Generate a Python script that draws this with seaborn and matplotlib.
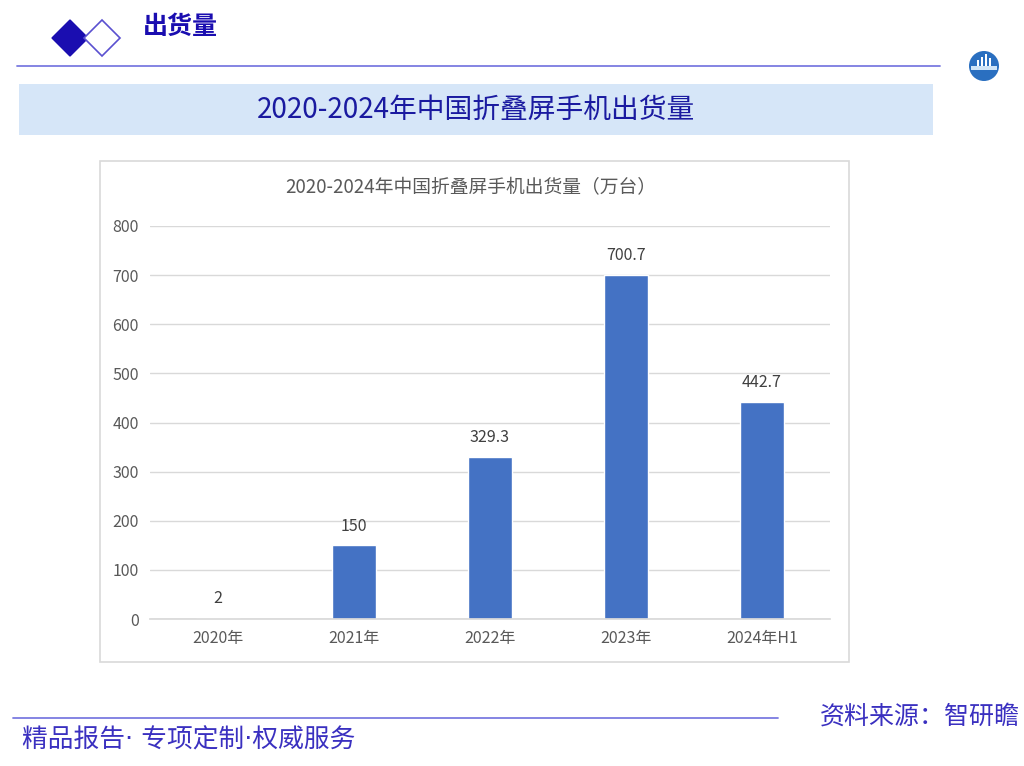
import matplotlib
matplotlib.use("Agg")
import matplotlib.pyplot as plt
import seaborn as sns
import pandas as pd
from matplotlib.patches import Polygon, Rectangle, Circle

sns.set_theme(style="white")
plt.rcParams['font.family'] = ['Noto Sans CJK SC', 'DejaVu Sans']

categories = ["2020年", "2021年", "2022年", "2023年", "2024年H1"]
values = [2, 150, 329.3, 700.7, 442.7]
value_labels = ["2", "150", "329.3", "700.7", "442.7"]
yticks = [0, 100, 200, 300, 400, 500, 600, 700, 800]

W, H = 1024, 766
fig = plt.figure(figsize=(W / 100, H / 100), dpi=100)

bg = fig.add_axes([0, 0, 1, 1])
bg.set_xlim(0, W)
bg.set_ylim(H, 0)
bg.axis("off")

dark = "#1a0db0"
line_c = "#7b7be0"
bg.add_patch(Polygon([(52, 38), (70, 20), (88, 38), (70, 56)], closed=True,
                     facecolor=dark, edgecolor=dark))
bg.add_patch(Polygon([(84, 38), (102, 20), (120, 38), (102, 56)], closed=True,
                     facecolor="white", edgecolor="#5a50d0", lw=1.2))
bg.text(143, 27, "出货量", fontsize=18, color=dark, fontweight="bold", va="center", ha="left")
bg.plot([17, 940], [66, 66], color=line_c, lw=1.3)
# logo
bg.add_patch(Circle((984, 66), 15, facecolor="#2a6fc0", edgecolor="none"))
bg.add_patch(Rectangle((971, 66), 26, 4, facecolor="#cfe4f7", edgecolor="none"))
for bx, bh in [(977, 6), (981, 9), (985, 12), (989, 8)]:
    bg.add_patch(Rectangle((bx, 66 - bh), 2.2, bh, facecolor="white", edgecolor="none"))
# title band
bg.add_patch(Rectangle((19, 84), 914, 51, facecolor="#d6e6f8", edgecolor="none"))
bg.text(476, 110, "2020-2024年中国折叠屏手机出货量", fontsize=20, color="#1a1aa0",
        ha="center", va="center")
# chart box
bg.add_patch(Rectangle((100, 161), 749, 501, facecolor="white", edgecolor="#d9d9d9", lw=1.2))
bg.text(471, 188, "2020-2024年中国折叠屏手机出货量（万台）", fontsize=13.5, color="#595959",
        ha="center", va="center")
# footer
bg.plot([13, 778], [718, 718], color=line_c, lw=1.3)
bg.text(22, 741, "精品报告· 专项定制·权威服务", fontsize=18.5, color="#3a30c0", ha="left", va="center",
        family=["DejaVu Sans", "Noto Sans CJK SC"])
bg.text(1020, 717, "资料来源：智研瞻", fontsize=18, color="#3a30c0", ha="right", va="center")

# chart axes
ax = fig.add_axes([150 / W, 1 - 619 / H, 680 / W, (619 - 226) / H])
df = pd.DataFrame({"cat": categories, "val": values})
sns.barplot(data=df, x="cat", y="val", color="#4472c4", width=0.32, ax=ax,
            saturation=1, zorder=3)
ax.set_ylim(0, 800)
ax.set_xlim(-0.5, 4.5)
ax.set_yticks(yticks)
ax.set_yticklabels([str(t) for t in yticks])
ax.yaxis.grid(True, color="#d9d9d9", lw=1, zorder=0)
ax.set_axisbelow(True)
for s in ["top", "right", "left"]:
    ax.spines[s].set_visible(False)
ax.spines["bottom"].set_color("#d9d9d9")
ax.spines["bottom"].set_zorder(4)
ax.set_xlabel("")
ax.set_ylabel("")
ax.tick_params(axis="both", length=0, labelsize=11.5, labelcolor="#595959")
ax.tick_params(axis="x", pad=8)
ax.tick_params(axis="y", pad=8)
ax.patch.set_alpha(0)
for i, (v, lab) in enumerate(zip(values, value_labels)):
    ax.text(i, v + 22, lab, ha="center", va="bottom", fontsize=11.5, color="#404040")

fig.savefig("out.png", dpi=100)
